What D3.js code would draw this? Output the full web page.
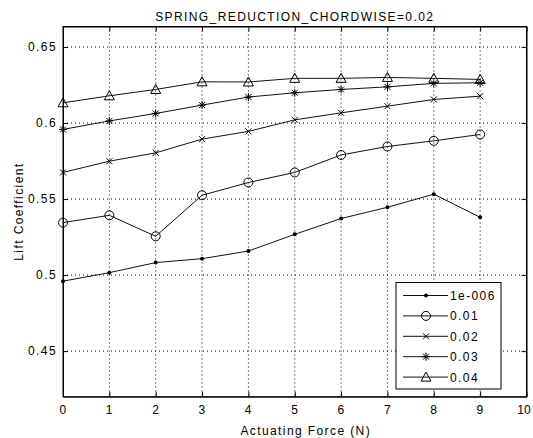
<!DOCTYPE html>
<html>
<head>
<meta charset="utf-8">
<script src="https://cdn.jsdelivr.net/npm/d3@7"></script>
<style>
  body { margin: 0; background: #fff; }
  text { font-family: "Liberation Sans", Arial, sans-serif; font-size: 12px; letter-spacing: 1.4px; fill: #000; }
</style>
</head>
<body>
<div class="canvas"></div>
<script>
// data
const forceN = [0, 1, 2, 3, 4, 5, 6, 7, 8, 9];
const lift1e006 = [0.496, 0.5016, 0.5082, 0.5108, 0.5158, 0.5268, 0.5372, 0.5446, 0.5532, 0.538];
const lift001 = [0.5345, 0.5393, 0.5255, 0.5525, 0.5609, 0.5675, 0.579, 0.5846, 0.5883, 0.5925];
const lift002 = [0.5675, 0.5749, 0.5804, 0.5894, 0.5945, 0.6021, 0.6067, 0.6111, 0.6155, 0.6177];
const lift003 = [0.5958, 0.6014, 0.6063, 0.6118, 0.6171, 0.6199, 0.6221, 0.6238, 0.6261, 0.6265];
const lift004 = [0.6133, 0.6179, 0.6221, 0.6271, 0.627, 0.6294, 0.6294, 0.630, 0.6294, 0.6287];
const seriesNames = ['1e-006', '0.01', '0.02', '0.03', '0.04'];
const markerTypes = ['dot', 'circle', 'x', 'star', 'triangle'];
const xTicks = [0, 1, 2, 3, 4, 5, 6, 7, 8, 9, 10];
const yTicks = [0.45, 0.5, 0.55, 0.6, 0.65];

const allSeries = [lift1e006, lift001, lift002, lift003, lift004];

const width = 533, height = 438;
const svg = d3.select('.canvas')
    .append('svg')
    .attr('width', width)
    .attr('height', height);

// plot box
const box = { left: 63, right: 526.5, top: 26.5, bottom: 396.7 };

const x = d3.scaleLinear().domain([0, 10]).range([box.left, box.right]);
const y = d3.scaleLinear().domain([0.42, 0.6635]).range([box.bottom, box.top]);

// grid (dotted)
const grid = svg.append('g');
grid.selectAll('.gx')
    .data(xTicks.slice(1, -1))
    .enter().append('line')
    .attr('x1', d => x(d)).attr('x2', d => x(d))
    .attr('y1', box.top).attr('y2', box.bottom)
    .attr('stroke', '#000').attr('stroke-width', 1)
    .attr('stroke-dasharray', '1,3');
grid.selectAll('.gy')
    .data(yTicks)
    .enter().append('line')
    .attr('x1', box.left).attr('x2', box.right)
    .attr('y1', d => y(d)).attr('y2', d => y(d))
    .attr('stroke', '#000').attr('stroke-width', 1)
    .attr('stroke-dasharray', '1,3');

// axes, ticks pointing inward
const xAxis = d3.axisBottom(x).tickValues(xTicks).tickSizeInner(-5).tickSizeOuter(0).tickPadding(9).tickFormat(d3.format('d'));
const yAxis = d3.axisLeft(y).tickValues(yTicks).tickSizeInner(-5).tickSizeOuter(0).tickPadding(6).tickFormat(d => String(d));
const xTop = d3.axisTop(x).tickValues(xTicks).tickSizeInner(-5).tickSizeOuter(0).tickFormat('');
const yRight = d3.axisRight(y).tickValues(yTicks).tickSizeInner(-5).tickSizeOuter(0).tickFormat('');

function styleAxis(g) {
    g.selectAll('path, line').attr('stroke', '#000').attr('stroke-width', 1);
    g.selectAll('text').attr('fill', '#000');
    g.attr('font-family', null).attr('font-size', null);
}

const xAxisGroup = svg.append('g').attr('transform', `translate(0, ${box.bottom})`).call(xAxis).call(styleAxis);
// keep the last label inside the window
xAxisGroup.selectAll('text').filter(d => d === 10)
    .style('letter-spacing', '0px')
    .attr('x', -3);
svg.append('g').attr('transform', `translate(${box.left}, 0)`).call(yAxis).call(styleAxis);
svg.append('g').attr('transform', `translate(0, ${box.top})`).call(xTop).call(styleAxis);
svg.append('g').attr('transform', `translate(${box.right}, 0)`).call(yRight).call(styleAxis);

svg.append('rect')
    .attr('x', box.left).attr('y', box.top)
    .attr('width', box.right - box.left).attr('height', box.bottom - box.top)
    .attr('fill', 'none').attr('stroke', '#000');

// markers
function drawMarker(g, type, cx, cy) {
    const m = g.append('g').attr('transform', `translate(${cx}, ${cy})`);
    if (type === 'dot') {
        m.append('circle').attr('r', 2).attr('fill', '#000');
    } else if (type === 'circle') {
        m.append('circle').attr('r', 4.5).attr('fill', 'none').attr('stroke', '#000');
    } else if (type === 'x') {
        m.append('path').attr('d', 'M-3,-3L3,3M-3,3L3,-3').attr('stroke', '#000');
    } else if (type === 'star') {
        m.append('path').attr('d', 'M-4,0L4,0M0,-4L0,4M-3,-3L3,3M-3,3L3,-3').attr('stroke', '#000');
    } else if (type === 'triangle') {
        m.append('path').attr('d', 'M0,-5L5,4L-5,4Z').attr('fill', 'none').attr('stroke', '#000');
    }
}

const line = d3.line()
    .x((d, i) => x(forceN[i]))
    .y(d => y(d));

allSeries.forEach((vals, k) => {
    svg.append('path')
        .attr('d', line(vals))
        .attr('fill', 'none')
        .attr('stroke', '#111')
        .attr('stroke-width', 1);
    const mg = svg.append('g');
    vals.forEach((v, i) => drawMarker(mg, markerTypes[k], x(forceN[i]), y(v)));
});

// legend
const legend = svg.append('g');
legend.append('rect')
    .attr('x', 396).attr('y', 282.5)
    .attr('width', 105).attr('height', 106.5)
    .attr('fill', '#fff').attr('stroke', '#000');
seriesNames.forEach((name, k) => {
    const ly = 295.5 + k * 20.4;
    legend.append('line')
        .attr('x1', 403).attr('x2', 448)
        .attr('y1', ly).attr('y2', ly)
        .attr('stroke', '#111');
    drawMarker(legend, markerTypes[k], 426, ly);
    legend.append('text')
        .attr('x', 450).attr('y', ly + 4.5)
        .text(name);
});

// title and labels
svg.append('text')
    .attr('x', (box.left + box.right) / 2)
    .attr('y', 21)
    .attr('text-anchor', 'middle')
    .text('SPRING_REDUCTION_CHORDWISE=0.02');

svg.append('text')
    .attr('x', x(5) + 11)
    .attr('y', 435)
    .attr('text-anchor', 'middle')
    .text('Actuating Force (N)');

svg.append('text')
    .attr('transform', `translate(23, ${(box.top + box.bottom) / 2}) rotate(-90)`)
    .attr('text-anchor', 'middle')
    .text('Lift Coefficient');
</script>
</body>
</html>
